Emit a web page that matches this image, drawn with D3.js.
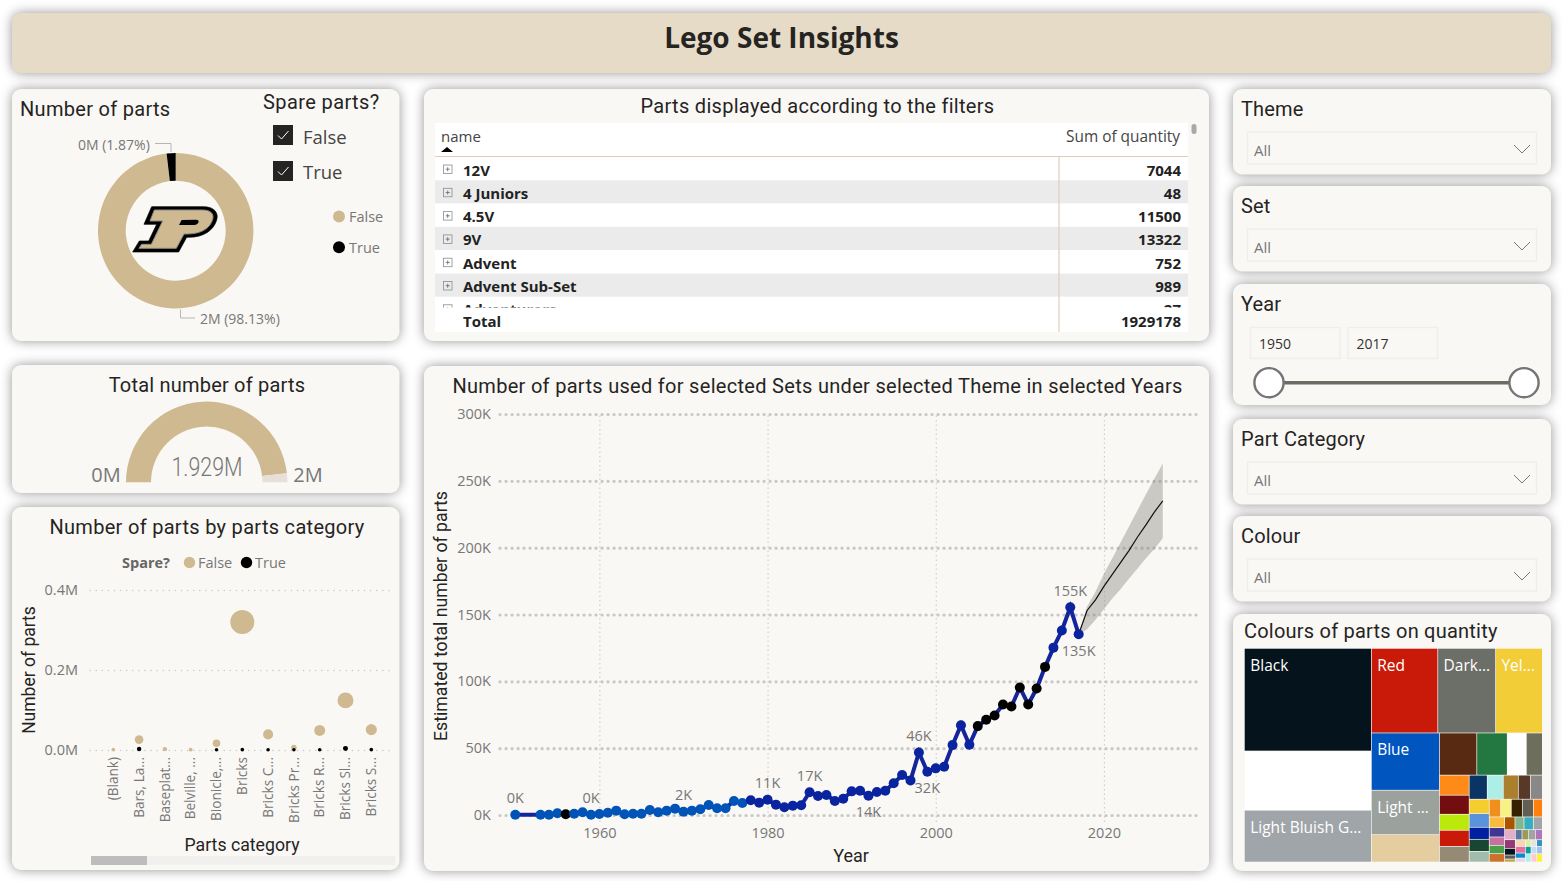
<!DOCTYPE html>
<html>
<head>
<meta charset="utf-8">
<title>Lego Set Insights</title>
<script src="https://cdn.jsdelivr.net/npm/d3@7/dist/d3.min.js"></script>
<style>
    html, body { margin: 0; padding: 0; background: #ffffff; overflow: hidden; }
    svg { display: block; }
    .card { filter: drop-shadow(0 0 6px rgba(0, 0, 0, 0.42)); }
    .axis path { display: none; }
    .axis text { font-family: "Open Sans", sans-serif; fill: #777777; }
</style>
</head>
<body>
<div id="chart"></div>
<script>
"use strict"

const width = 1562;
const height = 881;
const titleFont = "Roboto, sans-serif";
const bodyFont = "'Open Sans', sans-serif";
const titleColour = "#252423";
const mutedColour = "#777777";
const gold = "#cfb991";
const cardColour = "#faf8f5";

// donut and gauge
const spareLabels = ["False", "True"];
const spareValues = [98.13, 1.87];
const gaugeValue = 1.929;
const gaugeMax = 2;

// table
const tableNames = ["12V", "4 Juniors", "4.5V", "9V", "Advent", "Advent Sub-Set", "Adventurers"];
const tableQuantities = [7044, 48, 11500, 13322, 752, 989, 27];
const tableTotal = 1929178;

// bubble chart
const partCategories = ["(Blank)", "Bars, La...", "Baseplat...", "Belville, ...", "Bionicle,...", "Bricks", "Bricks C...", "Bricks Pr...", "Bricks R...", "Bricks Sl...", "Bricks S..."];
const partsFalse = [0.0008, 0.026, 0.002, 0.001, 0.017, 0.32, 0.039, 0.006, 0.049, 0.124, 0.051];
const partsTrue = [0, 0.0025, 0, 0, 0.0006, 0.0008, 0.0006, 0.0006, 0.0007, 0.004, 0.0008];
const partTicks = [0, 0.2, 0.4];

// line chart
const years = [1950, 1953, 1954, 1955, 1956, 1957, 1958, 1959, 1960, 1961, 1962, 1963, 1964, 1965, 1966, 1967, 1968, 1969, 1970, 1971, 1972, 1973, 1974, 1975, 1976, 1977, 1978, 1979, 1980, 1981, 1982, 1983, 1984, 1985, 1986, 1987, 1988, 1989, 1990, 1991, 1992, 1993, 1994, 1995, 1996, 1997, 1998, 1999, 2000, 2001, 2002, 2003, 2004, 2005, 2006, 2007, 2008, 2009, 2010, 2011, 2012, 2013, 2014, 2015, 2016, 2017];
const yearParts = [150, 250, 250, 1250, 500, 1000, 2000, 250, 750, 1750, 3250, 500, 1000, 1000, 3750, 2000, 3250, 4750, 2500, 3250, 4250, 7500, 5000, 5000, 10500, 9000, 11000, 9250, 11500, 7750, 5750, 7000, 7250, 17000, 14250, 15000, 10500, 12200, 17700, 18200, 14400, 17200, 18200, 23700, 29900, 25900, 46800, 32400, 34900, 36100, 52300, 67200, 52500, 66500, 71200, 74500, 82700, 81200, 95400, 82700, 94600, 110800, 125200, 138000, 155400, 135200];
const forecastYears = [2017, 2018, 2019, 2020, 2021, 2022, 2023, 2024, 2025, 2026, 2027];
const forecastParts = [135200, 153000, 161000, 171000, 180000, 189000, 198000, 208000, 217000, 226600, 235000];
const forecastUpper = [135200, 156000, 167000, 180500, 192000, 204000, 216000, 228000, 240000, 251500, 263000];
const forecastLower = [135200, 139000, 146000, 154000, 162000, 169000, 177000, 184500, 192000, 199000, 207000];
const labelAbove = [[1950, "0K"], [1959, "0K"], [1970, "2K"], [1980, "11K"], [1985, "17K"], [1998, "46K"], [2016, "155K"]];
const labelBelow = [[1992, "14K"], [1999, "32K"], [2017, "135K"]];
const yearTicks = [1960, 1980, 2000, 2020];
const quantityTicks = [0, 50000, 100000, 150000, 200000, 250000, 300000];

// treemap, one list per band: column, row, column, row ...
const colourValues = [
    [116.7, 67.3, 58.9],
    [50.3, 43.8, 35.4],
    [34.9, 27.1, 16.7],
    [14.1, 11.5, 7.2, 6.05],
    [5.34, 5.07, 4.27, 4.27, 4.18],
    [3.89, 3.46, 3.24, 2.59, 2.59],
    [2.58, 2.46, 2.16, 2.16, 1.92],
    [1.8, 1.7, 1.75, 1.75, 1.43],
    [1.47, 1.29, 1.15, 1.15, 1.15],
    [1.18, 1.03, 1.06, 1.03],
    [0.96, 0.83, 0.64, 0.38, 0.29],
    [0.6, 0.6, 0.6, 0.63],
    [0.6, 0.6, 0.45, 0.36],
    [0.34, 0.34, 0.34],
    [0.37, 0.42],
    [0.37, 0.37],
    [0.42],
    [0.42]
];
const colourHexes = [
    ["#05131d", "#ffffff", "#a0a5a9"],
    ["#c91a09", "#6c6e68", "#f2cd37"],
    ["#0055bf", "#9ba19d", "#e4cd9e"],
    ["#582a12", "#237841", "#ffffff", "#6d6e5c"],
    ["#fe8a18", "#720e0f", "#bbe90b", "#c91a09", "#958a73"],
    ["#0a3463", "#adeee7", "#aa7f2e", "#583927", "#898788"],
    ["#f5cd2f", "#5a93db", "#0020a0", "#184632", "#a0bcac"],
    ["#f08f1c", "#f8f184", "#352100", "#635f52", "#ff800d"],
    ["#f8bb3d", "#3f3691", "#c870a0", "#4b9f4a", "#cc702a"],
    ["#a95500", "#84b68d", "#36aebf", "#a0a5a9"],
    ["#e4adc8", "#923978", "#05131d", "#595d60", "#c0a640"],
    ["#6074a1", "#9b9a5a", "#a3a2a4", "#ac78ba"],
    ["#f6d7b3", "#e76f9f", "#078bc9", "#e4d4ed"],
    ["#dfeea5", "#e6e3e0", "#3592c3"],
    ["#069d9f", "#aeefec"],
    ["#c1dff0", "#9fc3e9"],
    ["#fecccf"],
    ["#fff03a"]
];
const colourLabels = [
    ["Black", "", "Light Bluish G..."],
    ["Red", "Dark...", "Yel..."],
    ["Blue", "Light ...", ""]
];

const slicers = [
    ["Theme", 89, 132],
    ["Set", 186, 229],
    ["Part Category", 419, 462],
    ["Colour", 516, 559]
];

const svg = d3.select("#chart").append("svg")
    .attr("width", width)
    .attr("height", height);


function AddCard(x, y, right, bottom, fill = cardColour)
{
    svg.append("rect")
        .attr("class", "card")
        .attr("x", x)
        .attr("y", y)
        .attr("width", right - x)
        .attr("height", bottom - y)
        .attr("rx", 9)
        .attr("fill", fill);
}


function AddText(x, y, text, size, options = {})
{
    return svg.append("text")
        .attr("x", x)
        .attr("y", y)
        .attr("font-family", options.font || bodyFont)
        .attr("font-size", size)
        .attr("font-weight", options.weight || 400)
        .attr("text-anchor", options.anchor || "start")
        .attr("letter-spacing", options.spacing || 0)
        .attr("fill", options.fill || mutedColour)
        .text(text);
}


function AddTitle(x, y, text, anchor = "start", spacing = 0.3, size = 20)
{
    return AddText(x, y, text, size, { font: titleFont, fill: titleColour, anchor: anchor, spacing: spacing });
}


function CreateCards()
{
    AddCard(12, 13, 1551, 73, "#e6dbc6");
    AddCard(12, 89, 399.5, 341);
    AddCard(12, 365, 399.5, 493);
    AddCard(12, 507, 399.5, 870);
    AddCard(424, 89, 1209, 341);
    AddCard(424, 366, 1209, 871);
    AddCard(1233, 89, 1551, 174.5);
    AddCard(1233, 186, 1551, 271.5);
    AddCard(1233, 284, 1551, 405);
    AddCard(1233, 419, 1551, 504.5);
    AddCard(1233, 516, 1551, 601.5);
    AddCard(1233, 614, 1551, 871);

    AddText(781.5, 48, "Lego Set Insights", 28, { weight: 700, anchor: "middle", fill: "#252423" });
}


function CreateDonut()
{
    const cx = 175.7;
    const cy = 230.7;

    AddTitle(20, 116, "Number of parts");

    const pie = d3.pie().sort(null);
    const arc = d3.arc().innerRadius(50).outerRadius(77.7);

    svg.append("g")
        .attr("transform", `translate(${cx},${cy})`)
        .selectAll("path")
        .data(pie(spareValues))
        .enter()
        .append("path")
            .attr("d", arc)
            .attr("fill", (_, i) => (i == 0) ? gold : "#000000");

    svg.append("path")
        .attr("d", "M155 143.5H171V152M180.5 309.5V318H195")
        .attr("fill", "none")
        .attr("stroke", "#b5b5b5")
        .attr("stroke-width", 1);

    AddText(78, 150, "0M (1.87%)", 14);
    AddText(200, 323.5, "2M (98.13%)", 14);

    // Purdue P in the hole of the donut
    const logo = svg.append("g").attr("transform", "translate(90,190) scale(0.3333)");
    const counter = "M275 90L267 105H312C320 105 325 100 326 95C327 91 323 89 318 89Z";
    logo.append("path")
        .attr("d", "M185 50H340C372 50 387 68 380 90C372 118 345 142 295 142H290L266 186H128L148 153H176L200 103H162Z")
        .attr("fill", "#000000")
        .attr("stroke", "#000000")
        .attr("stroke-width", 2);
    logo.append("path")
        .attr("d", "M193 60H338C362 60 373 72 368 88C361 112 338 132 292 132H282L259 175H147L155 163H184L218 93H180Z")
        .attr("fill", gold)
        .attr("stroke", "#8a8a86")
        .attr("stroke-width", 3);
    logo.append("path")
        .attr("d", counter)
        .attr("fill", "#000000");

    // spare parts slicer
    AddTitle(263, 109, "Spare parts?", "start", 0.4);
    spareLabels.forEach((label, i) => {
        const top = 125 + i * 36;
        svg.append("rect")
            .attr("x", 273)
            .attr("y", top)
            .attr("width", 20)
            .attr("height", 20)
            .attr("fill", "#252423");
        svg.append("path")
            .attr("d", `M278 ${top + 10.5}L281.5 ${top + 14}L288.5 ${top + 6}`)
            .attr("fill", "none")
            .attr("stroke", "#ffffff")
            .attr("stroke-width", 1);
        AddText(303, top + 19 - i, label, 18.5, { fill: "#444444" });

        svg.append("circle")
            .attr("cx", 339)
            .attr("cy", 216.6 + i * 30.7)
            .attr("r", 6)
            .attr("fill", (i == 0) ? gold : "#000000");
        AddText(349, 222 + i * 30.7, label, 14.5);
    });
}


function CreateGauge()
{
    AddTitle(207, 392, "Total number of parts", "middle", 0.2);

    const angle = d3.scaleLinear()
        .domain([0, gaugeMax])
        .range([-Math.PI / 2, Math.PI / 2]);
    const arc = d3.arc().innerRadius(55.7).outerRadius(80.7);
    const gauge = svg.append("g").attr("transform", "translate(206.7,482.3)");

    gauge.append("path")
        .attr("d", arc({ startAngle: angle(0), endAngle: angle(gaugeValue) }))
        .attr("fill", gold);
    gauge.append("path")
        .attr("d", arc({ startAngle: angle(gaugeValue), endAngle: angle(gaugeMax) }))
        .attr("fill", "#e6e0d8");

    AddText(207, 476, "1.929M", 25, { anchor: "middle", font: titleFont, weight: 300 })
        .attr("textLength", 71)
        .attr("lengthAdjust", "spacingAndGlyphs");
    AddText(106, 482, "0M", 20, { anchor: "middle" });
    AddText(308, 482, "2M", 20, { anchor: "middle" });
}


function CreateTable()
{
    AddTitle(817.5, 113, "Parts displayed according to the filters", "middle");

    svg.append("rect")
        .attr("x", 435)
        .attr("y", 123)
        .attr("width", 753)
        .attr("height", 209)
        .attr("fill", "#ffffff");

    AddText(441, 142, "name", 15, { fill: "#444444" });
    AddText(1180, 142, "Sum of quantity", 15.4, { fill: "#444444", anchor: "end" });
    svg.append("path").attr("d", "M441 152L447 147L453 152Z").attr("fill", "#000000");

    svg.append("defs").append("clipPath")
        .attr("id", "table-body")
        .append("rect")
            .attr("x", 435)
            .attr("y", 157)
            .attr("width", 753)
            .attr("height", 150.5);

    const rowY = d3.scaleBand()
        .domain(tableNames)
        .range([157, 157 + 23.3 * tableNames.length]);

    const rows = svg.append("g")
        .attr("clip-path", "url(#table-body)")
        .selectAll("g")
        .data(tableNames)
        .enter()
        .append("g")
            .attr("transform", d => `translate(0,${rowY(d)})`);

    rows.append("rect")
        .attr("x", 435)
        .attr("width", 753)
        .attr("height", rowY.bandwidth())
        .attr("fill", (_, i) => (i % 2 == 1) ? "#ebebeb" : "#ffffff");
    rows.append("rect")
        .attr("x", 443.5)
        .attr("y", 8)
        .attr("width", 8.5)
        .attr("height", 8.5)
        .attr("fill", "none")
        .attr("stroke", "#8c8c8c")
        .attr("stroke-width", 0.8);
    rows.append("path")
        .attr("d", "M445.7 12.2H449.8M447.7 10.2V14.3")
        .attr("stroke", "#666666")
        .attr("stroke-width", 0.8);
    rows.append("text")
        .attr("x", 463)
        .attr("y", 18.5)
        .attr("font-family", bodyFont)
        .attr("font-size", 15)
        .attr("font-weight", 700)
        .attr("fill", "#222222")
        .text(d => d);
    rows.append("text")
        .attr("x", 1181)
        .attr("y", 18.5)
        .attr("font-family", bodyFont)
        .attr("font-size", 15)
        .attr("font-weight", 700)
        .attr("text-anchor", "end")
        .attr("fill", "#222222")
        .text((_, i) => tableQuantities[i]);

    svg.append("path")
        .attr("d", "M435 156.5H1188M1059 157V332")
        .attr("fill", "none")
        .attr("stroke", "#dccfb6")
        .attr("stroke-width", 1.2);

    AddText(463, 326.5, "Total", 15, { weight: 700, fill: "#222222" });
    AddText(1181, 326.5, tableTotal, 15, { weight: 700, fill: "#222222", anchor: "end" });

    svg.append("rect")
        .attr("x", 1191.5)
        .attr("y", 124)
        .attr("width", 5)
        .attr("height", 10)
        .attr("rx", 2.5)
        .attr("fill", "#a9a9a9");
}


function CreateBubbles()
{
    AddTitle(207, 534, "Number of parts by parts category", "middle");

    AddText(122, 568, "Spare?", 14.5, { weight: 700, fill: "#666666" });
    spareLabels.forEach((label, i) => {
        svg.append("circle")
            .attr("cx", 189.5 + i * 57)
            .attr("cy", 562.5)
            .attr("r", 5.7)
            .attr("fill", (i == 0) ? gold : "#000000");
        AddText(198 + i * 57, 568, label, 14.5);
    });

    const x = d3.scaleBand()
        .domain(partCategories)
        .range([100.4, 384.2]);
    const y = d3.scaleLinear()
        .domain([0, 0.4])
        .range([750, 590]);
    const radius = d3.scaleSqrt()
        .domain([0, 0.32])
        .range([1.3, 12]);

    const yAxis = svg.append("g")
        .attr("class", "axis")
        .attr("transform", "translate(90,0)")
        .call(d3.axisLeft(y).tickValues(partTicks).tickFormat(d => d3.format(".1f")(d) + "M").tickSize(-302).tickPadding(12));
    yAxis.selectAll("text").attr("font-size", 14.5);
    yAxis.selectAll("line")
        .attr("stroke", "#c8c8c8")
        .attr("stroke-width", 1.4)
        .attr("stroke-linecap", "round")
        .attr("stroke-dasharray", "0.1 6");

    const xAxis = svg.append("g")
        .attr("class", "axis")
        .attr("transform", "translate(0,750)")
        .call(d3.axisBottom(x).tickSize(0).tickPadding(0));
    xAxis.selectAll("text")
        .attr("font-size", 13.6)
        .attr("transform", "translate(0,7) rotate(-90)")
        .attr("text-anchor", "end")
        .attr("dy", "0.35em")
        .attr("y", 0);

    const groups = [[partsFalse, gold], [partsTrue, "#000000"]];
    groups.forEach(([values, fill]) => {
        svg.append("g")
            .selectAll("circle")
            .data(partCategories.filter((_, i) => values[i] > 0))
            .enter()
            .append("circle")
                .attr("cx", d => x(d) + x.bandwidth() / 2)
                .attr("cy", d => y(values[partCategories.indexOf(d)]))
                .attr("r", d => radius(values[partCategories.indexOf(d)]))
                .attr("fill", fill);
    });

    AddTitle(0, 0, "Number of parts", "middle", 0, 17.5)
        .attr("transform", "translate(35,670) rotate(-90)");
    AddTitle(242, 851, "Parts category", "middle", 0, 17.7);

    svg.append("rect").attr("x", 91).attr("y", 856).attr("width", 304).attr("height", 9).attr("fill", "#f1f0ee");
    svg.append("rect").attr("x", 91).attr("y", 856).attr("width", 56).attr("height", 9).attr("fill", "#bdbdbd");
}


function MarkerColour(year)
{
    if(year == 1956 || (year >= 2005 && year <= 2013))
    {
        return "#000000";
    }
    return (year <= 1977) ? "#0054b8" : "#0a24a0";
}


function CreateLine()
{
    AddTitle(817.5, 393, "Number of parts used for selected Sets under selected Theme in selected Years", "middle");

    const x = d3.scaleLinear()
        .domain([1960, 2020])
        .range([599.4, 1103.9]);
    const y = d3.scaleLinear()
        .domain([0, 300000])
        .range([815, 414]);

    const yAxis = svg.append("g")
        .attr("class", "axis")
        .attr("transform", "translate(500,0)")
        .call(d3.axisLeft(y).tickValues(quantityTicks).tickFormat(d => (d / 1000) + "K").tickSize(-700).tickPadding(9));
    yAxis.selectAll("text").attr("font-size", 14.5);
    yAxis.selectAll("line")
        .attr("stroke", "#c8c8c8")
        .attr("stroke-width", 3.2)
        .attr("stroke-linecap", "round")
        .attr("stroke-dasharray", "0.1 5.9");

    const xAxis = svg.append("g")
        .attr("class", "axis")
        .attr("transform", "translate(0,822)")
        .call(d3.axisBottom(x).tickValues(yearTicks).tickFormat(d3.format("d")).tickSize(-408).tickPadding(6));
    xAxis.selectAll("text").attr("font-size", 14.5);
    xAxis.selectAll("line")
        .attr("stroke", "#c8c8c8")
        .attr("stroke-width", 1)
        .attr("stroke-dasharray", "1.5 3");

    const band = d3.area()
        .x((_, i) => x(forecastYears[i]))
        .y0((_, i) => y(forecastLower[i]))
        .y1((_, i) => y(forecastUpper[i]));
    svg.append("path")
        .attr("d", band(forecastYears))
        .attr("fill", "#88887f")
        .attr("fill-opacity", 0.42);

    const forecast = d3.line()
        .x((_, i) => x(forecastYears[i]))
        .y((_, i) => y(forecastParts[i]));
    svg.append("path")
        .attr("d", forecast(forecastYears))
        .attr("fill", "none")
        .attr("stroke", "#111111")
        .attr("stroke-width", 1.2);

    const line = d3.line()
        .x((_, i) => x(years[i]))
        .y((_, i) => y(yearParts[i]));
    svg.append("path")
        .attr("d", line(years))
        .attr("fill", "none")
        .attr("stroke", "#14249c")
        .attr("stroke-width", 4);

    svg.append("g")
        .selectAll("circle")
        .data(years)
        .enter()
        .append("circle")
            .attr("cx", d => x(d))
            .attr("cy", (_, i) => y(yearParts[i]))
            .attr("r", 5)
            .attr("fill", d => MarkerColour(d));

    labelAbove.forEach(([year, text]) => {
        AddText(x(year), y(yearParts[years.indexOf(year)]) - 11.5, text, 14.5, { anchor: "middle" });
    });
    labelBelow.forEach(([year, text]) => {
        AddText(x(year), y(yearParts[years.indexOf(year)]) + 21.5, text, 14.5, { anchor: "middle" });
    });

    AddTitle(851, 862, "Year", "middle", 0, 18);
    AddTitle(0, 0, "Estimated total number of parts", "middle", 0, 17.7)
        .attr("transform", "translate(447,616) rotate(-90)");
}


function CreateSlicers()
{
    slicers.forEach(([name, top, boxTop]) => {
        AddTitle(1241, top + 27, name, "start", 0.15);
        svg.append("rect")
            .attr("x", 1247.5)
            .attr("y", boxTop)
            .attr("width", 289)
            .attr("height", 32)
            .attr("fill", "none")
            .attr("stroke", "#f0eeec")
            .attr("stroke-width", 1.5);
        AddText(1254, boxTop + 24, "All", 15);
        svg.append("path")
            .attr("d", `M1514 ${boxTop + 13}L1522 ${boxTop + 21}L1530 ${boxTop + 13}`)
            .attr("fill", "none")
            .attr("stroke", "#7a7a7a")
            .attr("stroke-width", 1);
    });

    AddTitle(1241, 311, "Year", "start", 0.15);
    [[1250.5, "1950"], [1348, "2017"]].forEach(([left, label]) => {
        svg.append("rect")
            .attr("x", left)
            .attr("y", 327.5)
            .attr("width", 89.5)
            .attr("height", 31)
            .attr("fill", "none")
            .attr("stroke", "#f0eeec")
            .attr("stroke-width", 1.5);
        AddText(left + 8.5, 349, label, 14, { fill: "#333333" });
    });

    svg.append("line")
        .attr("x1", 1269)
        .attr("x2", 1524)
        .attr("y1", 382.7)
        .attr("y2", 382.7)
        .attr("stroke", "#6e6b64")
        .attr("stroke-width", 3.6);
    [1269, 1524].forEach((cx) => {
        svg.append("circle")
            .attr("cx", cx)
            .attr("cy", 382.7)
            .attr("r", 14.6)
            .attr("fill", "#ffffff")
            .attr("stroke", "#757575")
            .attr("stroke-width", 2.4);
    });
}


function NestBands(level)
{
    const band = colourValues[level].map((value, i) => ({
        value: value,
        fill: colourHexes[level][i],
        label: (colourLabels[level] || [])[i] || ""
    }));
    const children = [{ children: band }];
    if(level + 1 < colourValues.length)
    {
        children.push(NestBands(level + 1));
    }
    return { children: children };
}


function CreateTreemap()
{
    AddTitle(1244, 638, "Colours of parts on quantity", "start", 0.22);

    const root = d3.hierarchy(NestBands(0)).sum(d => d.value || 0);

    d3.treemap()
        .tile(d3.treemapSliceDice)
        .size([297.3, 213])
        .paddingInner(0.7)
        (root);

    const tiles = svg.append("g")
        .attr("transform", "translate(1244.7,648.7)");

    tiles.selectAll("rect")
        .data(root.leaves())
        .enter()
        .append("rect")
            .attr("x", d => d.x0)
            .attr("y", d => d.y0)
            .attr("width", d => d.x1 - d.x0)
            .attr("height", d => d.y1 - d.y0)
            .attr("fill", d => d.data.fill);

    tiles.selectAll("text")
        .data(root.leaves().filter(d => d.data.label != ""))
        .enter()
        .append("text")
            .attr("x", d => d.x0 + 5.5)
            .attr("y", d => d.y0 + 22)
            .attr("font-family", bodyFont)
            .attr("font-size", 15.5)
            .attr("fill", "#ffffff")
            .text(d => d.data.label);
}


CreateCards();
CreateDonut();
CreateGauge();
CreateTable();
CreateBubbles();
CreateLine();
CreateSlicers();
CreateTreemap();
</script>
</body>
</html>
